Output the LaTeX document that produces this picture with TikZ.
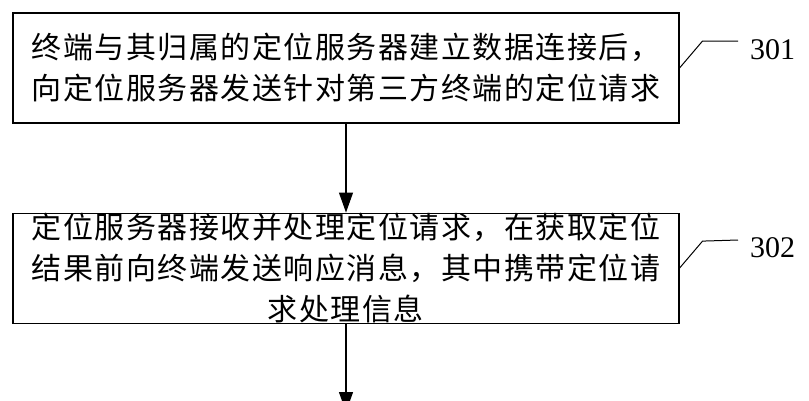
\documentclass[tikz,border=0pt]{standalone}
\usepackage{fontspec}
\setmainfont{Liberation Serif}
\newfontfamily\cjk[LetterSpace=5]{Noto Sans CJK SC}
\usepackage{tikz}
\usetikzlibrary{positioning}
\usetikzlibrary{arrows.meta}
\tikzset{
	stepbox/.style={draw, line width=1.1pt, minimum width=666pt, minimum height=110pt, inner sep=0pt, align=center, font=\cjk\fontsize{30}{41}\selectfont},
	steplabel/.style={anchor=base west, inner sep=0pt, font=\fontsize{30}{36}\selectfont},
	flow/.style={line width=1.1pt, -{Triangle[length=20pt, width=14pt]}},
	leader/.style={line width=1pt}
}

\begin{document}
\begin{tikzpicture}[x=1pt, y=-1pt]
				\useasboundingbox (0,0) rectangle (809,400);
				\clip (0,0) rectangle (809,400);
				
				\node[stepbox] (S301) at (346,68) {终端与其归属的定位服务器建立数据连接后，\\向定位服务器发送针对第三方终端的定位请求};
				\node[stepbox, below=89pt of S301] (S302) {定位服务器接收并处理定位请求，在获取定位\\结果前向终端发送响应消息，其中携带定位请\\求处理信息};
				
				\node[steplabel] (L301) at (750,59) {301};
				\node[steplabel] (L302) at (750,257) {302};
				\coordinate (T301) at (738,41);
				\coordinate (T302) at (738,240);
				\coordinate (next) at (346,412);
				
				\draw[leader] (S301.east) -- ++(23,-27) -- (T301);
				\draw[leader] (S302.east) -- ++(23,-27) -- (T302);
				
				\draw[flow] (S301) -- (S302);
				\draw[flow] (S302) -- (next);
			\end{tikzpicture}
\end{document}
